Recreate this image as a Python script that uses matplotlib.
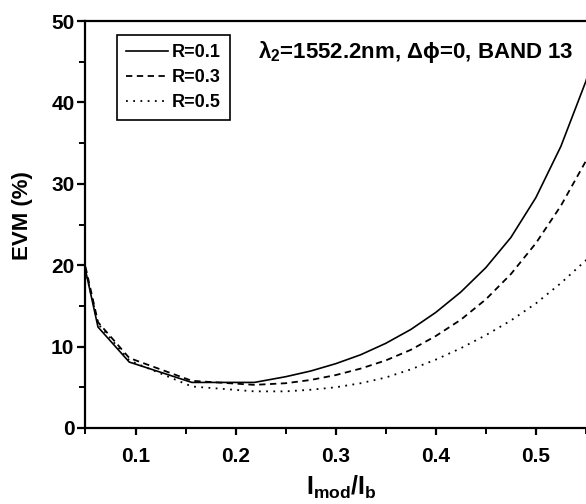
import matplotlib
matplotlib.use("Agg")
import matplotlib.pyplot as plt
from matplotlib.ticker import MultipleLocator

# Données (points de la simulation)
ratio_mod = [0.05, 0.0625, 0.09375, 0.15625, 0.21875, 0.25, 0.275, 0.3,
             0.325, 0.35, 0.375, 0.4, 0.425, 0.45, 0.475, 0.5, 0.525, 0.55, 0.575]
evm_r01 = [19.4, 12.4, 8.1, 5.6, 5.6, 6.3, 7.0, 7.9,
           9.0, 10.4, 12.1, 14.2, 16.7, 19.7, 23.4, 28.3, 34.6, 42.6, 53.0]
evm_r03 = [19.8, 13.0, 8.6, 5.8, 5.3, 5.5, 5.9, 6.5,
           7.3, 8.3, 9.6, 11.3, 13.3, 15.8, 18.9, 22.7, 27.3, 32.8, 40.0]
evm_r05 = [19.4, 12.8, 8.3, 5.1, 4.5, 4.5, 4.7, 5.0,
           5.5, 6.2, 7.2, 8.4, 9.8, 11.4, 13.2, 15.3, 17.8, 20.6, 24.0]
labels = ["R=0.1", "R=0.3", "R=0.5"]
xticks = [0.1, 0.2, 0.3, 0.4, 0.5]

plt.rcParams['font.family'] = ['Liberation Sans', 'DejaVu Sans']
plt.rcParams['font.weight'] = 'bold'
plt.rcParams['mathtext.fontset'] = 'custom'
plt.rcParams['mathtext.rm'] = 'Liberation Sans:bold'
plt.rcParams['mathtext.it'] = 'Liberation Sans:bold'
plt.rcParams['mathtext.bf'] = 'Liberation Sans:bold'

fig = plt.figure(figsize=(5.86, 5.04), dpi=100)
# l'axe dépasse à droite : la figure d'origine est rognée
ax = fig.add_axes([0.1459, 0.1508, 0.871, 0.8075])

ax.plot(ratio_mod, evm_r01, color='black', lw=1.2, ls='-', label=labels[0])
ax.plot(ratio_mod, evm_r03, color='black', lw=1.3, ls=(0, (3.5, 2.5)), label=labels[1])
ax.plot(ratio_mod, evm_r05, color='black', lw=1.3, ls=(0, (1, 3)), label=labels[2])

ax.set_xlim(0.05, 0.56)
ax.set_ylim(0, 50)
ax.set_xticks(xticks)
ax.set_xticklabels([f"{v:.1f}" for v in xticks])
ax.xaxis.set_minor_locator(MultipleLocator(0.05))
ax.yaxis.set_major_locator(MultipleLocator(10))
ax.yaxis.set_minor_locator(MultipleLocator(5))

for s in ax.spines.values():
    s.set_linewidth(1.6)
ax.tick_params(axis='x', which='major', direction='out', length=5, width=1.6,
               labelsize=15, pad=9)
ax.tick_params(axis='y', which='major', direction='out', length=6, width=1.6,
               labelsize=15, pad=2)
ax.tick_params(which='minor', direction='out', length=4, width=1.4)
ax.tick_params(top=False, right=False, which='both')

ax.set_ylabel("EVM (%)", fontsize=16, fontweight='bold')
ax.yaxis.set_label_coords(-0.103, 0.521)
ax.set_xlabel(r"$\mathrm{I_{mod}/I_{b}}$", fontsize=18)
ax.xaxis.set_label_coords(0.502, -0.113)

ax.text(0.338, 0.909, r"$\mathrm{\lambda_2}$=1552.2nm, Δϕ=0, BAND 13",
        transform=ax.transAxes, fontsize=16, fontweight='bold', va='baseline')

leg = ax.legend(loc='upper left', bbox_to_anchor=(0.062, 0.966), fontsize=13,
                frameon=True, fancybox=False, handlelength=2.3, handletextpad=0.25,
                borderpad=0.5, labelspacing=0.45, borderaxespad=0)
leg.get_frame().set_edgecolor('black')
leg.get_frame().set_linewidth(1.2)
leg.get_frame().set_alpha(1)

fig.savefig("out.png", dpi=100)
